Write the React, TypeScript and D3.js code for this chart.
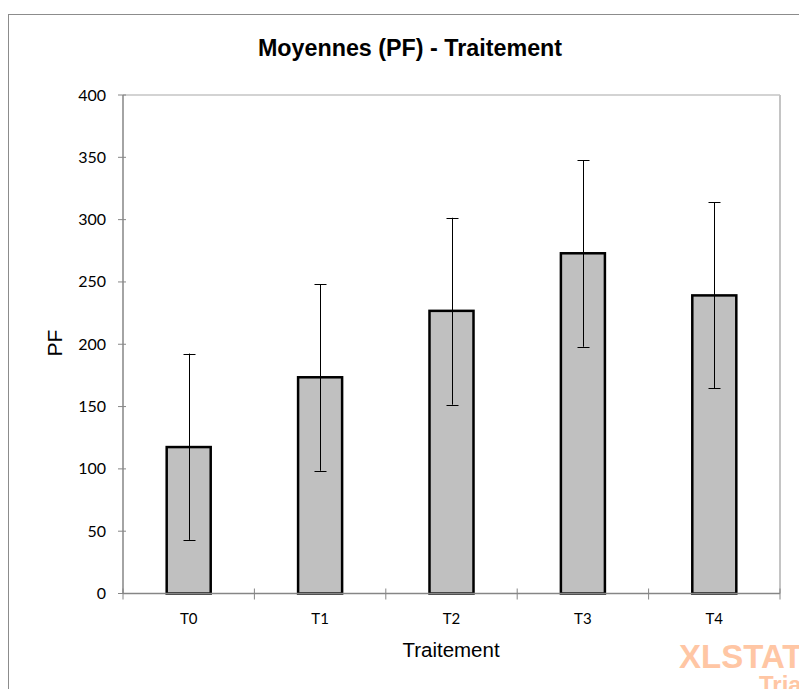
import React from "react";
import * as d3 from "d3";

const categories = ["T0", "T1", "T2", "T3", "T4"];
const means = [117.5, 173.5, 226.8, 273.0, 239.2];
const errLow = [43, 98.5, 151.5, 198, 164.5];
const errHigh = [192.5, 248, 301.5, 347.8, 314];
const yTicks = [0, 50, 100, 150, 200, 250, 300, 350, 400];

const W = 799;
const H = 689;
const M = { left: 123, right: 780, top: 95, bottom: 593.5 };

export default function App() {
  const x = d3.scaleBand<string>().domain(categories).range([M.left, M.right]).paddingInner(0).paddingOuter(0);
  const y = d3.scaleLinear().domain([0, 400]).range([M.bottom, M.top]);
  const bw = x.bandwidth() * 0.335;
  const axisColor = "#868686";
  const labelFont = "Lato, 'Open Sans', sans-serif";
  const boundaries = categories.map((c) => x(c)!).concat([M.right]);

  return (
    <svg width={W} height={H} style={{ position: "absolute", left: 0, top: 0 }}>
      <rect x={0} y={0} width={W} height={H} fill="#fff" />
      <rect x={8.5} y={14.5} width={W + 10} height={H + 10} fill="none" stroke="#8c8c8c" strokeWidth={1} />
      <text x={410} y={56} textAnchor="middle" fontFamily="'Liberation Sans', Arial, sans-serif" fontWeight="bold" fontSize={23.3} fill="#000">
        Moyennes (PF) - Traitement
      </text>
      {/* plot area border */}
      <line x1={M.left} x2={M.right} y1={M.top} y2={M.top} stroke="#c4c4c4" strokeWidth={1.5} />
      <line x1={M.right} x2={M.right} y1={M.top} y2={M.bottom} stroke="#c4c4c4" strokeWidth={2} />
      {/* bars */}
      {categories.map((c, i) => {
        const cx = x(c)! + x.bandwidth() / 2;
        return (
          <g key={c}>
            <rect x={cx - bw / 2} y={y(means[i])} width={bw} height={y(0) - y(means[i])} fill="#c0c0c0" stroke="#000" strokeWidth={2.5} />
          </g>
        );
      })}
      {/* error bars */}
      {categories.map((c, i) => {
        const cx = Math.round(x(c)! + x.bandwidth() / 2) + 0.5;
        return (
          <g key={"e" + c} stroke="#000" strokeWidth={1}>
            <line x1={cx} x2={cx} y1={y(errLow[i])} y2={y(errHigh[i])} />
            <line x1={cx - 6} x2={cx + 6} y1={Math.round(y(errLow[i])) + 0.5} y2={Math.round(y(errLow[i])) + 0.5} />
            <line x1={cx - 6} x2={cx + 6} y1={Math.round(y(errHigh[i])) + 0.5} y2={Math.round(y(errHigh[i])) + 0.5} />
          </g>
        );
      })}
      {/* y axis */}
      <line x1={M.left} x2={M.left} y1={M.top} y2={M.bottom} stroke={axisColor} strokeWidth={1.5} />
      {yTicks.map((t) => (
        <g key={t}>
          <line x1={M.left - 5} x2={M.left + 3} y1={y(t)} y2={y(t)} stroke={axisColor} strokeWidth={1} />
          <text x={106} y={y(t) + 5.5} textAnchor="end" fontFamily={labelFont} fontSize={16} fill="#000">
            {t}
          </text>
        </g>
      ))}
      {/* x axis */}
      <line x1={M.left} x2={M.right} y1={M.bottom} y2={M.bottom} stroke={axisColor} strokeWidth={1.5} />
      {boundaries.map((b, i) => (
        <line key={i} x1={b} x2={b} y1={M.bottom - 5} y2={M.bottom + 6} stroke={axisColor} strokeWidth={1} />
      ))}
      {categories.map((c) => (
        <text key={"l" + c} x={x(c)! + x.bandwidth() / 2} y={624} textAnchor="middle" fontFamily={labelFont} fontSize={15} fill="#000">
          {c}
        </text>
      ))}
      <text x={451} y={657} textAnchor="middle" fontFamily="'Liberation Sans', Arial, sans-serif" fontSize={20.5} fill="#000">
        Traitement
      </text>
      <text transform={`translate(62,343) rotate(-90)`} textAnchor="middle" fontFamily="'Liberation Sans', Arial, sans-serif" fontSize={21} fill="#000">
        PF
      </text>
      {/* watermark */}
      <text x={679} y={668} fontFamily="'Liberation Sans', Arial, sans-serif" fontWeight="bold" fontSize={33} fill="#ffc6a4">
        XLSTAT
      </text>
      <text x={759} y={693} fontFamily="'Liberation Sans', Arial, sans-serif" fontWeight="bold" fontSize={24} fill="#ffc6a4">
        Trial
      </text>
    </svg>
  );
}
